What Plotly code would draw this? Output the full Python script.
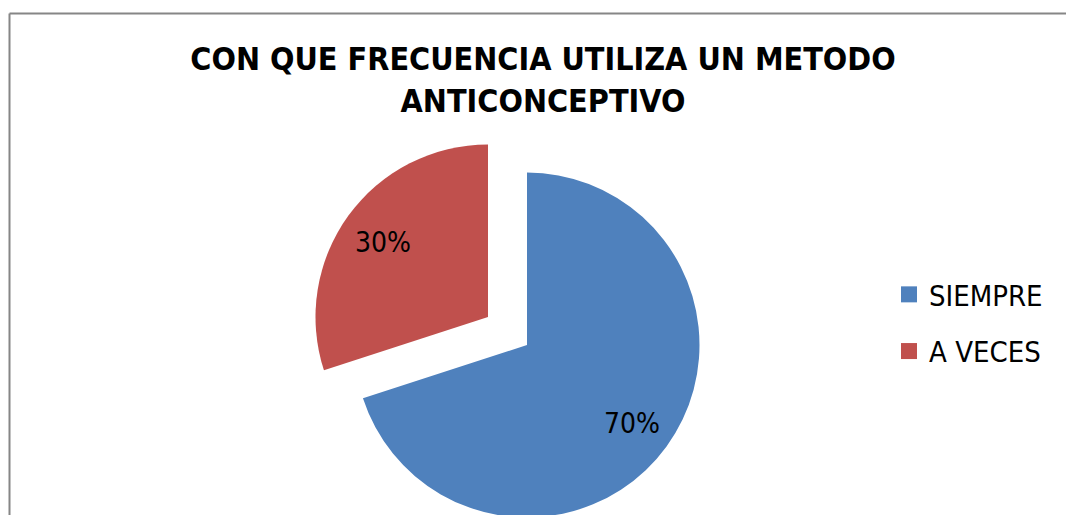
import math
import plotly.graph_objects as go

labels = ["SIEMPRE", "A VECES"]
values = [70, 30]
colors = ["#4F81BD", "#C0504D"]
title_text = "<b>CON QUE FRECUENCIA UTILIZA UN METODO<br>ANTICONCEPTIVO</b>"

W, H = 1074, 522
FONT = "Liberation Sans Narrow, Arial Narrow, DejaVu Sans Condensed, sans-serif"

R = 172.5
# pie centres in pixels (base pie, exploded slice)
centres = [(527, 345), (488, 317)]


def dom_x(cx, r):
    return [(cx - r) / W, (cx + r) / W]


def dom_y(cy, r):
    return [max(0.0, 1 - (cy + r) / H), min(1.0, 1 - (cy - r) / H)]


fig = go.Figure()
total = sum(values)
annotations = []
cum = 0
for i, (lab, val, col) in enumerate(zip(labels, values, colors)):
    cx, cy = centres[i]
    slice_cols = ["rgba(0,0,0,0)"] * len(values)
    slice_cols[i] = col
    fig.add_trace(go.Pie(
        labels=labels, values=values, sort=False, direction="clockwise", rotation=0,
        marker=dict(colors=slice_cols, line=dict(width=0)),
        textinfo="none",
        domain=dict(x=dom_x(cx, R), y=dom_y(cy, R)),
        showlegend=False, hoverinfo="label+percent",
    ))
    theta = 2 * math.pi * (cum + val / 2) / total
    cum += val
    d = 0.75 * R
    annotations.append(dict(
        text=f"{round(100 * val / total)}%", showarrow=False,
        xref="paper", yref="paper", xanchor="center", yanchor="middle",
        x=(cx + d * math.sin(theta)) / W, y=1 - (cy - d * math.cos(theta) + 2) / H,
        font=dict(family=FONT, size=28, color="black"),
    ))

# legend entries
for lab, col in zip(labels, colors):
    fig.add_trace(go.Scatter(
        x=[None], y=[None], mode="markers", name=lab,
        marker=dict(symbol="square", size=16, color=col),
        legendgroup=lab, showlegend=True,
    ))

fig.update_layout(
    width=W, height=H,
    margin=dict(l=0, r=0, t=0, b=0),
    paper_bgcolor="white", plot_bgcolor="white",
    xaxis=dict(visible=False), yaxis=dict(visible=False),
    title=dict(text=title_text, x=543 / W, xanchor="center", y=1 - 70 / H, yanchor="top",
               font=dict(family=FONT, size=32, color="black")),
    legend=dict(x=889 / W, xanchor="left", y=1 - 269 / H, yanchor="top",
                font=dict(family=FONT, size=29, color="black"),
                traceorder="grouped", tracegroupgap=16, itemwidth=30,
                bgcolor="rgba(0,0,0,0)"),
    annotations=annotations,
    shapes=[
        dict(type="line", xref="paper", yref="paper",
             x0=9.5 / W, x1=1.0, y0=1 - 13.5 / H, y1=1 - 13.5 / H,
             line=dict(color="#868686", width=2)),
        dict(type="line", xref="paper", yref="paper",
             x0=9.5 / W, x1=9.5 / W, y0=0.0, y1=1 - 13.5 / H,
             line=dict(color="#868686", width=2)),
    ],
)

fig.write_html(
    "out.html",
    config={"displayModeBar": False},
    post_script=(
        "document.body.style.margin='0';"
        "document.body.style.overflow='hidden';"
        "document.documentElement.style.overflow='hidden';"
    ),
)
